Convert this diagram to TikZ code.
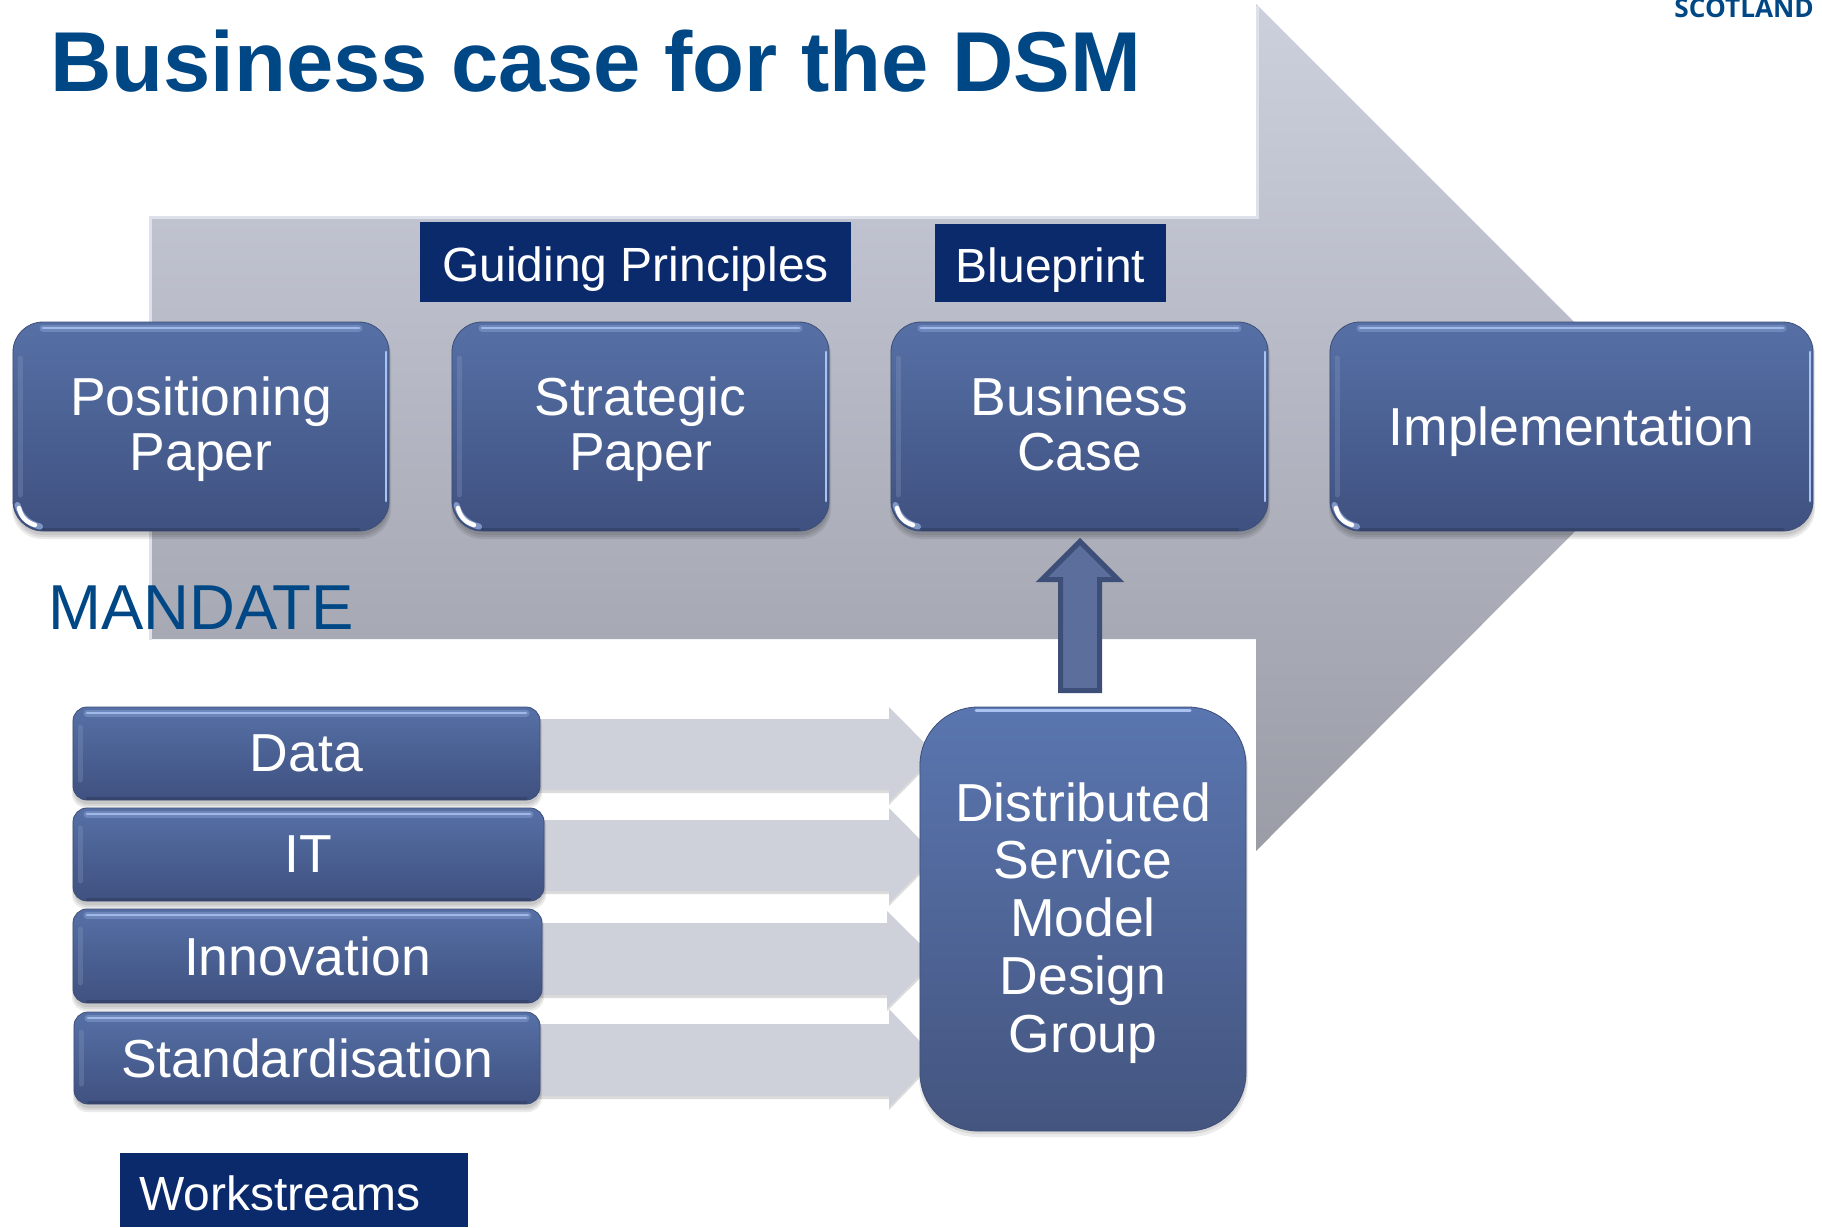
\documentclass[tikz,border=0pt]{standalone}
\usepackage{fontspec}
\setmainfont{Liberation Sans}
\newfontfamily\logofont{Open Sans}
\usetikzlibrary{calc}
\pgfdeclarelayer{back}
\pgfdeclarelayer{mid}
\pgfdeclarelayer{shadowlayer}
\pgfsetlayers{back,mid,shadowlayer,main}
\definecolor{titleblue}{HTML}{004785}
\definecolor{tagblue}{HTML}{0A2A6C}
\definecolor{boxtop}{HTML}{5670A6}
\definecolor{boxbot}{HTML}{3F5180}
\definecolor{boxedge}{HTML}{3D4E78}
\definecolor{shine}{HTML}{A9C2F2}
\definecolor{flowfill}{HTML}{CED1DA}
\definecolor{upfill}{HTML}{5C6F9C}
\definecolor{bigtop}{HTML}{CCD0DD}
\definecolor{bigbot}{HTML}{9A9CA6}
\definecolor{bigedge}{HTML}{DEE1EA}
\definecolor{dsmtop}{HTML}{5A76B0}
\definecolor{dsmbot}{HTML}{44557F}
\newcommand{\hs}[1]{\rule{0pt}{#1pt}}
\newcommand{\ds}[1]{\rule[-#1pt]{0pt}{#1pt}}
\tikzset{
  bevelbox/.style={shape=rectangle,top color=boxtop,bottom color=boxbot,draw=boxedge,line width=0.8pt,
    inner sep=0pt,outer sep=0pt,text=white,align=center,font=\fontsize{53.5}{55}\selectfont},
  tagbox/.style={shape=rectangle,fill=tagblue,text=white,inner sep=0pt,outer sep=0pt,
    font=\fontsize{48}{50}\selectfont,text height=50pt,text depth=11pt},
  softshadow/.style={fill=black,opacity=0.08},
  shinewide/.style={draw=shine,line width=7pt,line cap=round,opacity=.3},
  shineline/.style={draw=shine,line width=2.5pt,line cap=round,opacity=.85},
  shineside/.style={draw=boxtop!70!white,line width=5pt,line cap=round,opacity=.3},
  darkband/.style={draw=boxedge!80!black,line width=3pt,line cap=round,opacity=.6},
  flowshape/.style={fill=flowfill},
  flowshadow/.style={fill=black,opacity=0.14},
  uparrow/.style={fill=upfill,draw=boxedge,line width=5pt,line join=miter,miter limit=10},
}
% name, x1, y1, x2, y2, radius, text
\newcommand{\bevelnode}[7]{%
  \begin{pgfonlayer}{shadowlayer}
    \fill[softshadow,rounded corners=#6pt] (#2-1,#3+3) rectangle (#4+2,#5+8);
    \fill[softshadow,rounded corners=#6pt] (#2,#3+3) rectangle (#4+1,#5+6);
    \fill[softshadow,rounded corners=#6pt] (#2+1,#3+3) rectangle (#4,#5+4);
  \end{pgfonlayer}
  \node[bevelbox,rounded corners=#6pt,minimum width={(#4-#2)*1pt},minimum height={(#5-#3)*1pt}]
    (#1) at ({(#2+#4)/2},{(#3+#5)/2}) {#7};
  \draw[shinewide] ($(#1.north west)+(#6,6)$) -- ($(#1.north east)+(-#6,6)$);
  \draw[shineline] ($(#1.north west)+(#6,6)$) -- ($(#1.north east)+(-#6,6)$);
  \draw[shineside] ($(#1.north west)+(7,#6+6)$) -- ($(#1.south west)+(7,-#6-6)$);
  \draw[darkband] ($(#1.south west)+(#6,-1.5)$) -- ($(#1.south east)+(-#6,-1.5)$);
}
% bright edge and white corner of a large box
\newcommand{\bigbevel}[1]{%
  \draw[shine,line width=2.5pt,line cap=round] ($(#1.north east)+(-3,30)$) -- ($(#1.south east)+(-3,-30)$);
  \draw[shine,line width=6pt,line cap=round,opacity=.6] ($(#1.south west)+(4.5,-26)$) to[bend right=30] ($(#1.south west)+(27,-4.5)$);
  \draw[white,line width=4.5pt,line cap=round] ($(#1.south west)+(6,-23)$) to[bend right=30] ($(#1.south west)+(22,-6)$);
}
% from-node, head coordinate, tip coordinate, y body top, y body bottom, y head top, y head bottom, style, offset
\newcommand{\flowpath}[9]{%
  \pgfmathsetmacro{\ya}{#4+#9}\pgfmathsetmacro{\yb}{#5+#9}\pgfmathsetmacro{\yc}{#6+#9}\pgfmathsetmacro{\yd}{#7+#9}%
  \pgfmathsetmacro{\ym}{(#6+#7)/2+#9}%
  \fill[#8] (#1.center |- 0,\ya) -- (#2 |- 0,\ya) -- (#2 |- 0,\yc) -- (#3 |- 0,\ym)
    -- (#2 |- 0,\yd) -- (#2 |- 0,\yb) -- (#1.center |- 0,\yb) -- cycle;
}
\newcommand{\flowarrow}[7]{%
  \begin{pgfonlayer}{mid}
    \flowpath{#1}{#2}{#3}{#4}{#5}{#6}{#7}{flowshadow}{3}
    \flowpath{#1}{#2}{#3}{#4}{#5}{#6}{#7}{flowshape}{0}
  \end{pgfonlayer}
}
\begin{document}
\begin{tikzpicture}[x=1pt,y=-1pt]
\useasboundingbox (0,0) rectangle (1822,1227);
\clip (0,0) rectangle (1822,1227);

% big background arrow
\begin{pgfonlayer}{back}
  \fill[white] (0,0) rectangle (1822,1227);
  \shade[top color=bigtop,bottom color=bigbot]
    (149,216) -- (1256,216) -- (1256,4) -- (1679,427) -- (1256,851) -- (1256,639) -- (149,639) -- cycle;
  \draw[bigedge,line width=3pt] (150,640) -- (150,217.5) -- (1257.5,217.5) -- (1257.5,6);
\end{pgfonlayer}

% title etc
\node[anchor=base west,inner sep=0pt,text=titleblue,font=\fontsize{85}{90}\selectfont\bfseries] (title) at (50,91) {Business case for the DSM};
\node[anchor=base east,inner sep=0pt,text=titleblue,font=\fontsize{26.2}{30}\selectfont\logofont\bfseries] (logo) at (1814,17) {SCOTLAND};
\node[anchor=base west,inner sep=0pt,text=titleblue,font=\fontsize{63.5}{66}\selectfont] (mandate) at (48,629) {MANDATE};

% tags
\node[tagbox,minimum width=431pt,minimum height=80pt] (tagGP) at (635.5,262) {Guiding Principles};
\node[tagbox,minimum width=231pt,minimum height=78pt] (tagBP) at (1050.5,263) {Blueprint};
\node[tagbox,minimum width=348pt,minimum height=74pt,text width=310pt,align=left,text depth=11pt,text height=52pt] (tagWS) at (294,1190) {Workstreams};

% main boxes
\bevelnode{pos}{13}{322}{389}{531}{30}{\hs{45}Positioning\\Paper\ds{13}}
\bevelnode{strat}{452}{322}{829}{531}{30}{\hs{45}Strategic\\Paper\ds{13}}
\bevelnode{bus}{891}{322}{1268}{531}{30}{\hs{45}Business\\Case\ds{13}}
\bevelnode{impl}{1330}{322}{1813}{531}{30}{\hs{50}Implementation\ds{13}}
\bigbevel{pos}\bigbevel{strat}\bigbevel{bus}\bigbevel{impl}

% workstreams
\bevelnode{data}{73}{707}{540}{800}{14}{Data}
\bevelnode{it}{73}{808}{544}{901}{14}{IT}
\bevelnode{innov}{73}{909}{542}{1003}{14}{Innovation}
\bevelnode{stand}{74}{1012}{540}{1104}{14}{Standardisation}

% DSM box
\begin{pgfonlayer}{shadowlayer}
  \fill[softshadow,rounded corners=58pt] (919,710) rectangle (1248,1137);
  \fill[softshadow,rounded corners=58pt] (920,710) rectangle (1247,1134);
\end{pgfonlayer}
\node[shape=rectangle,rounded corners=58pt,top color=dsmtop,bottom color=dsmbot,draw=boxedge,line width=0.8pt,
  minimum width=326pt,minimum height=424pt,inner sep=0pt,outer sep=0pt,text=white,align=center,
  font=\fontsize{53.5}{57.75}\selectfont] (dsm) at (1083,919)
  {\hs{48}Distributed\\Service\\Model\\Design\\Group\ds{13}};
\draw[shine,line width=3pt,line cap=round] ($(dsm.north west)+(56,3)$) -- ($(dsm.north east)+(-56,3)$);

% flow arrows
\coordinate (hd) at ($(dsm.west)+(-31,0)$);
\coordinate (hdc) at ($(dsm.west)+(-33,0)$);
\coordinate (tp) at ($(dsm.west)+(16,0)$);
\flowarrow{data}{hd}{tp}{719}{790}{707}{802}
\flowarrow{it}{hd}{tp}{820}{891}{808}{903}
\flowarrow{innov}{hdc}{tp}{923}{995}{911}{1008}
\flowarrow{stand}{hd}{tp}{1024}{1096}{1009}{1107}

% up arrow from DSM to Business Case
\coordinate (uptip) at ($(bus.south)+(0.5,10.5)$);
\coordinate (upbase) at ($(dsm.north)+(0,-16.5)$);
\filldraw[uparrow] ($(uptip |- upbase)+(-19.5,0)$) -- ($(uptip)+(-19.5,38)$) -- ($(uptip)+(-38,38)$) -- (uptip)
  -- ($(uptip)+(38,38)$) -- ($(uptip)+(19.5,38)$) -- ($(uptip |- upbase)+(19.5,0)$) -- cycle;
\end{tikzpicture}
\end{document}
